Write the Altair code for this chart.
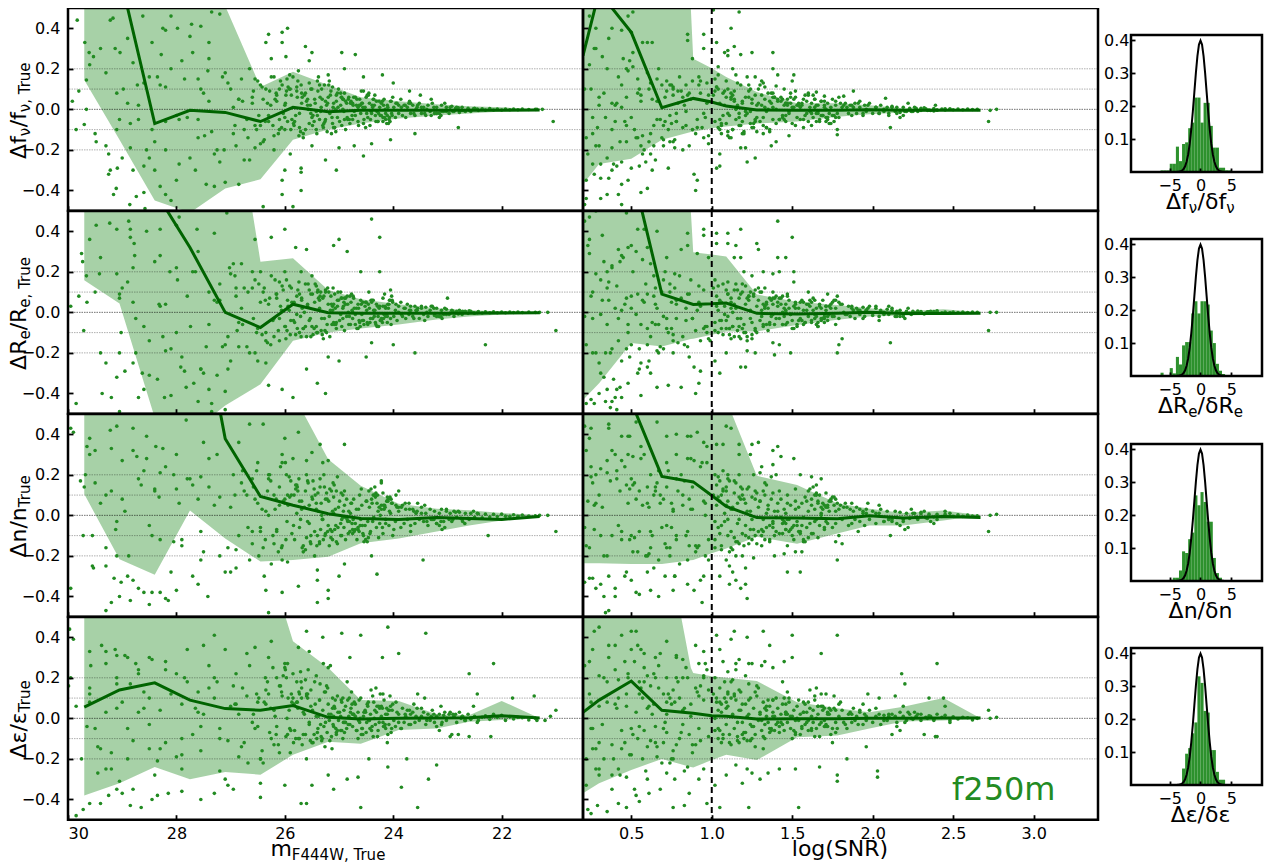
import altair as alt
import pandas as pd

GREEN = "#228B22"
DARK = "#006400"
FONT = "DejaVu Sans"

M_KNOTS = [29.7, 29.05, 28.4, 27.75, 27.1, 26.45, 25.85, 25.2, 24.6, 23.9, 23.2, 22.6, 22.0, 21.3]
S_LINE_K = [.2, .3, .5, .69, .885, 1.0, 1.09, 1.28, 1.53, 1.78, 1.98, 2.19, 2.44, 2.67]
S_BAND_K = [.2, .3, .5, .69, .87, .885, 1.0, 1.09, 1.28, 1.53, 1.78, 1.98, 2.19, 2.44, 2.67]

M_LO = [[.145, -.15, -.45, -.51, -.39, -.345, -.15, -.1, -.07, -.045, -.03, -.02, -.01, 0],
        [.158, .044, -.52, -.6, -.46, -.355, -.14, -.10, -.08, -.06, -.035, -.02, -.01, 0],
        [.105, -.217, -.293, .024, -.114, -.228, -.22, -.204, -.138, -.114, -.08, -.05, -.025, 0],
        [-.38, -.32, -.24, -.30, -.265, -.278, -.18, -.115, -.125, -.058, -.05, -.017, -.008, 0]]
M_HI = [[.9, .9, .9, .8, .51, .11, .185, .12, .06, .04, .025, .015, .01, 0],
        [.9, .9, .9, .9, 1.33, .25, .267, .11, .065, .04, .02, .01, .005, 0],
        [.9, .9, .9, .9, .9, .9, .6, .277, .146, .057, .033, .025, .012, 0],
        [.9, .9, .9, .9, .9, .9, .38, .25, .09, .085, .02, .015, .086, 0]]
M_LINE = [[1.2, .67, -.07, -.005, -.015, -.06, .01, -.012, -.005, -.005, -.005, -.005, -.005, -.003],
          [1.2, 1.0, .6, .32, 0, -.075, .04, -.002, -.005, -.005, -.004, -.004, -.003, -.002],
          [1.4, 1.35, 1.3, 1.3, .378, .093, .05, .008, -.016, -.021, -.011, -.015, -.02, -.006],
          [.055, .14, .175, .09, .048, .04, .063, .005, -.003, 0, .002, .003, .013, .002]]
S_LO = [[-.37, -.27, -.244, -.15, -.112, -.11, -.093, -.085, -.07, -.06, -.036, -.024, -.016, -.008, 0],
        [-.433, -.35, -.151, -.168, -.132, -.13, -.11, -.094, -.094, -.062, -.037, -.02, -.016, -.01, 0],
        [-.236, -.236, -.24, -.24, -.222, -.22, -.187, -.163, -.106, -.14, -.09, -.05, -.05, -.025, 0],
        [-.37, -.32, -.255, -.2, -.24, -.242, -.206, -.18, -.206, -.093, -.085, -.05, -.016, -.01, 0]]
S_HI = [[.9, .9, .9, .9, .5, .25, .203, .16, .086, .03, .03, .02, .005, .002, 0],
        [.9, .9, .9, .9, .5, .296, .285, .275, .088, .052, .036, .02, .006, .015, 0],
        [.9, .9, .9, .9, .9, .9, .9, .57, .195, .15, .06, .033, .011, .024, 0],
        [.9, .9, .9, 1.0, .25, .224, .208, .2, .184, .08, .05, .03, .057, .10, 0]]
S_LINE = [[.265, .58, .38, .008, .054, .036, .016, -.003, -.005, -.004, -.002, -.005, -.004, -.004],
          [.9, .85, .72, .09, .039, .042, .046, -.005, -.008, -.005, 0, -.006, -.006, -.005],
          [.8, .75, .56, .192, .165, .098, .044, -.011, -.013, -.017, -.002, -.013, -.006, -.01],
          [.03, .09, .184, .04, .025, .013, .01, -.003, -.002, -.002, 0, 0, .002, .002]]

CORE_M = [25.88, 25.82, 25.78, 25.73, 25.69, 25.66, 25.62, 25.58, 25.55, 25.52, 25.48, 25.45, 25.42, 25.39, 25.36, 25.33, 25.3, 25.27, 25.25, 25.22, 25.2, 25.17, 25.15, 25.12, 25.1, 25.08, 25.05, 25.03, 25.01, 24.99, 24.97, 24.95, 24.93, 24.91, 24.9, 24.88, 24.86, 24.84, 24.82, 24.8,
          24.78, 24.75, 24.73, 24.7, 24.68, 24.65, 24.62, 24.6, 24.58, 24.55, 24.52, 24.5, 24.47, 24.44, 24.42, 24.39, 24.36, 24.33, 24.31, 24.28, 24.25, 24.22, 24.19, 24.17, 24.14, 24.11, 24.08, 24.05, 24.02, 23.99, 23.96, 23.93, 23.9, 23.86, 23.83, 23.8, 23.77, 23.74, 23.71, 23.68,
          23.64, 23.6, 23.56, 23.52, 23.48, 23.44, 23.4, 23.36, 23.32, 23.28, 23.24, 23.2, 23.15, 23.11, 23.07, 23.02, 22.97, 22.92, 22.88, 22.83, 22.78, 22.73, 22.67, 22.62, 22.57,
          22.5, 22.43, 22.36, 22.3, 22.22, 22.15, 22.08, 22.0, 21.93, 21.85, 21.78, 21.7, 21.62, 21.5, 21.38]
CORE_S = [1.01, 1.02, 1.03, 1.04, 1.05, 1.06, 1.07, 1.08, 1.09, 1.1, 1.11, 1.12, 1.13, 1.14, 1.15, 1.16, 1.17, 1.18, 1.19, 1.2, 1.21, 1.22, 1.23, 1.24, 1.25, 1.26, 1.27, 1.28, 1.29, 1.3, 1.31, 1.32, 1.33, 1.34, 1.35, 1.36, 1.37, 1.38, 1.39, 1.4,
          1.41, 1.42, 1.43, 1.44, 1.45, 1.46, 1.47, 1.48, 1.49, 1.5, 1.51, 1.52, 1.53, 1.54, 1.55, 1.56, 1.57, 1.58, 1.59, 1.6, 1.61, 1.62, 1.63, 1.64, 1.65, 1.66, 1.67, 1.68, 1.69, 1.7, 1.71, 1.72, 1.73, 1.75, 1.76, 1.77, 1.79, 1.81, 1.83, 1.85,
          1.86, 1.87, 1.88, 1.89, 1.9, 1.92, 1.94, 1.95, 1.96, 1.98, 2.0, 2.02, 2.04, 2.05, 2.07, 2.09, 2.1, 2.12, 2.14, 2.15, 2.17, 2.19, 2.21, 2.23, 2.25,
          2.27, 2.3, 2.33, 2.35, 2.38, 2.4, 2.43, 2.45, 2.48, 2.5, 2.53, 2.56, 2.59, 2.62, 2.65]
CORE_Y1 = [.07, -.06, .11, -.09, .03, -.12, .08, .02, -.07, .1, -.03, .05, -.1, .09, -.05, .01, -.08, .12, .04, -.11, .06, -.02, .09, -.07, .03, -.09, .07, -.04, .1, -.06, .02, -.08, .05, -.01, .08, -.1, .03, -.05, .06, -.07,
           .04, -.05, .06, -.03, .02, -.06, .05, -.02, .03, -.07, .01, .06, -.04, .03, -.05, .02, .05, -.03, .04, -.06, .01, .03, -.04, .05, -.02, .02, -.05, .04, -.03, .01, -.04, .03, -.02, .05, -.03, .02, -.04, .01, .03, -.02,
           .02, -.03, .01, .03, -.02, .01, -.03, .02, -.01, .03, -.02, .01, -.02, .02, -.01, .01, -.02, .015, -.01, .01, -.015, .01, -.01, .005, -.01,
           .005, -.005, .003, -.004, .004, -.003, .002, -.003, .002, -.002, .002, -.002, .001, -.001, 0]
CORE_Y2 = [.12, -.05, .08, -.1, .06, -.08, .14, .03, -.04, .09, -.11, .05, -.07, .11, .02, -.09, .07, -.03, .1, -.06, .04, -.12, .08, .01, -.05, .09, -.08, .03, .06, -.04, .1, -.07, .02, .05, -.09, .07, -.02, .04, -.06, .08,
           .05, -.03, .07, -.06, .02, .04, -.05, .06, -.01, -.04, .03, .05, -.06, .02, -.03, .06, .01, -.05, .04, -.02, .03, -.04, .07, -.01, .02, -.05, .04, -.03, .06, -.02, .01, -.04, .03, .05, -.02, .02, -.03, .04, -.01, .03,
           -.02, .03, .01, -.03, .02, -.01, .025, -.02, .01, .03, -.015, .02, -.02, .01, -.01, .015, -.01, .01, -.02, .005, .01, -.01, .005, -.005, .005,
           -.004, .004, -.003, .003, -.002, .003, -.002, .002, -.002, .001, -.001, .002, -.001, .001, 0]
CORE_Y3 = [.1, -.12, .15, -.06, .07, -.15, .12, -.03, .05, -.1, .17, -.08, .03, .11, -.13, .06, -.02, .14, -.09, .08, -.05, .13, -.11, .02, .09, -.07, .12, -.14, .04, .07, -.1, -.02, .1, -.06, .05, -.12, .08, -.03, .02, -.08,
           .06, -.09, .08, -.04, .03, -.07, .1, -.02, .05, -.1, -.05, .07, -.03, .04, -.08, .06, -.01, .09, -.06, .02, -.04, .05, -.09, .03, -.02, .07, -.05, .01, .06, -.07, -.03, .04, .02, -.06, .05, -.04, .03, -.02, .06, -.05,
           .03, -.04, .02, -.02, .04, -.03, .01, -.05, .03, -.02, .02, -.04, .01, .03, -.03, .02, -.02, -.03, .02, -.01, .015, -.02, .01, -.015, .01,
           -.01, .008, -.012, .006, -.008, .005, -.006, .006, -.004, -.005, .003, -.005, .002, -.003, -.002]
CORE_Y4 = [.12, -.06, .08, -.1, .15, .03, -.08, .1, -.03, .06, -.12, .18, .01, -.05, .09, -.09, .04, .13, -.02, -.07, .07, -.11, .02, .1, -.04, .05, -.08, .11, -.01, .03, -.06, .08, -.1, .04, -.02, .06, -.05, .09, .01, -.03,
           .05, -.04, .02, .07, -.06, .03, -.02, .1, -.05, .01, .04, -.07, .06, -.01, .02, -.04, .08, -.03, .03, -.06, .05, .01, -.02, .09, -.05, .02, -.03, .06, .04, -.01, -.04, .03, .02, -.05, .05, -.02, .01, .04, -.03, .02,
           .03, -.02, .05, -.01, .01, .03, -.03, .02, -.01, .04, -.02, .01, .02, -.03, .015, -.01, .02, -.08, .01, -.02, .03, .01, -.01, .02, -.005,
           .01, -.01, .005, .012, -.005, .02, .005, .015, -.01, .008, -.003, .005, .003, -.008, 0]
CORE_Y = [CORE_Y1, CORE_Y2, CORE_Y3, CORE_Y4]

MID_M = [25.97, 25.41, 25.76, 25.13, 25.58, 25.29, 25.91, 25.07, 25.66, 25.35, 25.84, 25.19, 25.52, 25.03, 25.71, 25.44, 25.26, 25.94, 25.11, 25.62, 25.38, 25.8, 25.16, 25.49, 25.05, 25.74, 25.32, 25.87, 25.23, 25.55,
         25.09, 25.68, 25.42, 25.96, 25.14, 25.6, 25.28, 25.78, 25.02, 25.5, 25.36, 25.89, 25.21, 25.64, 25.46, 25.12, 25.73, 25.31, 25.83, 25.18, 25.57, 25.06, 25.69, 25.4, 25.92, 25.25, 25.53, 25.1, 25.77, 25.34,
         24.96, 24.43, 24.77, 24.14, 24.59, 24.27, 24.92, 24.06, 24.65, 24.34, 24.85, 24.18, 24.51, 24.04, 24.72, 24.45, 24.24, 24.95, 24.12, 24.61, 24.37, 24.81, 24.15, 24.48, 24.03, 24.75, 24.32, 24.88, 24.22, 24.56,
         24.09, 24.67, 24.41, 24.97, 24.16, 24.63, 24.29, 24.79, 24.01, 24.49, 24.38, 24.9, 24.2, 24.64, 24.46, 24.11, 24.74, 24.3, 24.83, 24.19, 24.57, 24.07, 24.7, 24.4, 24.93, 24.26, 24.54, 24.1, 24.76, 24.35,
         23.95, 23.2, 23.7, 23.1, 23.55, 23.3, 23.85, 23.05, 23.62, 23.38, 23.78, 23.15, 23.48, 23.02, 23.68, 23.42, 23.25, 23.9, 23.12, 23.58, 22.9, 22.8, 22.72, 22.95, 22.6, 22.85, 22.68, 22.52, 22.75, 22.45]
MID_S = [1.02, 1.2, 1.09, 1.32, 1.14, 1.25, 1.04, 1.35, 1.11, 1.23, 1.06, 1.3, 1.17, 1.37, 1.1, 1.19, 1.27, 1.03, 1.33, 1.13, 1.22, 1.07, 1.31, 1.18, 1.36, 1.1, 1.24, 1.05, 1.28, 1.16,
         1.34, 1.12, 1.21, 1.02, 1.32, 1.14, 1.26, 1.08, 1.38, 1.17, 1.23, 1.05, 1.29, 1.13, 1.19, 1.33, 1.1, 1.25, 1.06, 1.31, 1.15, 1.36, 1.12, 1.21, 1.04, 1.27, 1.16, 1.34, 1.09, 1.24,
         1.38, 1.62, 1.47, 1.72, 1.52, 1.66, 1.41, 1.76, 1.5, 1.63, 1.44, 1.7, 1.57, 1.77, 1.48, 1.6, 1.68, 1.39, 1.73, 1.53, 1.64, 1.45, 1.71, 1.58, 1.78, 1.46, 1.65, 1.43, 1.69, 1.55,
         1.74, 1.51, 1.61, 1.38, 1.72, 1.54, 1.67, 1.46, 1.79, 1.59, 1.64, 1.42, 1.7, 1.52, 1.6, 1.75, 1.47, 1.66, 1.44, 1.71, 1.56, 1.77, 1.49, 1.62, 1.4, 1.68, 1.57, 1.74, 1.46, 1.65,
         1.8, 2.15, 1.92, 2.2, 1.97, 2.1, 1.84, 2.22, 1.94, 2.07, 1.87, 2.17, 2.02, 2.24, 1.91, 2.04, 2.12, 1.82, 2.19, 1.96, 2.28, 2.32, 2.36, 2.26, 2.4, 2.3, 2.38, 2.45, 2.34, 2.48]
MID_Y1 = [.09, -.12, .14, -.04, .05, -.09, .17, .0, -.14, .06, -.07, .12, -.02, .08, -.11, .03, -.06, .11, .01, -.1, .16, -.03, .07, -.08, .04, -.13, .1, -.05, .02, .13,
          -.09, .06, -.01, .15, -.12, .04, -.07, .09, .01, -.04, .12, -.1, .03, .07, -.06, .11, -.02, .05, -.08, .14, .0, -.11, .08, -.03, .1, -.05, .02, -.09, .06, -.01,
          .06, -.08, .03, -.05, .09, -.02, .05, -.06, .01, .07, -.04, .02, -.09, .04, -.01, .08, -.03, .06, -.07, .02, .05, -.05, .0, .07, -.02, .03, -.06, .04, -.03, .01,
          -.07, .05, -.01, .08, -.04, .02, -.06, .03, .06, -.02, .01, -.05, .04, -.08, .07, -.03, .02, -.01, .05, -.06, .03, -.04, .06, -.02, .0, .04, -.05, .01, -.03, .02,
          .03, -.02, .04, -.01, .02, -.03, .01, .03, -.02, .0, .02, -.04, .01, -.01, .03, -.02, .01, .02, -.03, .0, -.01, .008, -.006, .01, -.004, .005, -.008, .003, -.005, .002]
MID_Y2 = [.16, -.1, .11, -.06, .04, -.13, .13, .02, -.08, .08, -.04, .1, -.12, .06, -.02, .14, -.09, .03, .12, -.07, .07, -.11, .01, .09, -.05, .15, -.03, .05, -.1, .11,
          -.06, .02, .13, -.09, .04, -.12, .08, -.01, .1, -.07, .06, -.04, .12, .0, -.08, .03, .09, -.11, .05, -.02, .14, -.06, .07, -.1, .01, .11, -.03, .04, -.08, .1,
          .07, -.05, .09, -.02, .04, -.07, .03, .06, -.08, .01, .08, -.03, .05, -.06, .02, .1, -.04, .07, -.01, -.07, .06, -.02, .03, -.05, .08, .0, -.06, .04, -.03, .05,
          .02, -.08, .06, -.01, .09, -.04, .03, -.06, .05, .01, -.03, .07, -.05, .02, .04, -.02, .08, -.07, .0, .03, -.04, .06, -.01, .05, -.03, .02, -.06, .04, .01, -.02,
          .04, -.02, .01, -.03, .02, .03, -.01, .02, -.03, .0, .02, -.02, .03, -.01, .01, -.04, .02, .0, -.02, .01, .006, -.008, .005, -.004, .008, -.003, .004, -.002, .003, -.002]
MID_Y3 = [.2, -.15, .12, -.08, .17, -.12, .09, .03, -.18, .14, -.05, .07, -.14, .19, -.02, .1, -.1, .05, .16, -.17, .02, .13, -.07, .08, -.13, .18, .0, -.09, .11, -.04,
          .15, -.16, .06, -.03, .12, -.11, .2, .01, -.06, .09, -.14, .17, -.08, .04, .13, -.12, .07, -.02, .1, -.15, .16, -.05, .03, -.1, .19, .08, -.13, .01, .14, -.07,
          .11, -.09, .06, -.04, .13, -.11, .02, .09, -.06, .14, -.02, .05, -.12, .08, -.08, .12, .0, -.1, .07, -.05, .1, -.03, .04, -.13, .06, -.07, .11, -.01, .03, -.09,
          .08, -.12, .13, -.04, .05, -.08, .1, .01, -.1, .07, -.03, .12, -.06, .03, -.11, .09, -.02, .06, -.09, .11, -.05, .02, -.07, .08, -.01, .04, -.13, .07, -.04, .1,
          .05, -.04, .03, -.07, .06, -.02, .04, -.06, .02, -.03, .06, -.05, .01, .03, -.08, .05, -.02, .04, -.03, .01, -.02, .02, -.03, .01, -.02, .015, -.04, .02, -.015, .01]
MID_Y4 = [.2, -.1, .05, -.15, .12, .27, -.05, .09, -.08, .17, -.12, .02, .14, -.06, .23, .07, -.14, .1, -.03, .19, .01, -.1, .26, .04, -.07, .13, -.11, .08, .16, -.02,
          .06, -.13, .21, .0, -.09, .11, -.04, .18, .03, -.12, .09, -.06, .15, .02, -.08, .05, .12, -.1, .07, -.01, .24, -.05, .1, -.07, .04, .13, -.11, .01, .08, -.03,
          .09, -.05, .13, .02, -.08, .06, -.02, .11, -.1, .04, .18, -.04, .03, -.07, .08, -.01, .12, -.06, .05, .0, -.09, .1, -.03, .07, -.05, .02, .15, -.02, .06, -.08,
          .04, -.06, .14, .01, -.04, .09, -.09, .03, .07, -.02, .11, -.07, .05, -.01, .08, -.12, .02, .06, -.03, .12, -.05, .04, .01, -.06, .1, -.02, .03, -.08, .07, .0,
          .08, -.04, .04, -.02, .12, .01, -.05, .03, .07, -.01, .02, -.06, .05, .0, -.03, .1, .02, -.02, .06, .01, .02, -.08, .01, .03, -.09, .02, -.01, .06, .0, -.02]
MID_Y = [MID_Y1, MID_Y2, MID_Y3, MID_Y4]

FAINT_M = [29.6, 29.3, 28.9, 28.6, 28.3, 28.0, 27.7, 27.5, 27.3, 27.1, 26.95, 26.85, 26.75, 26.65, 26.55, 26.5, 26.4, 26.35, 26.3, 26.25, 26.2, 26.15, 26.1, 26.05, 26.0, 29.5, 29.1, 28.8, 28.5, 28.2,
           27.9, 27.6, 27.4, 27.2, 27.0, 26.9, 26.8, 26.7, 26.6, 26.52, 26.45, 26.38, 26.32, 26.28, 26.22, 26.18, 26.12, 26.08, 26.03, 25.98, 29.4, 29.0, 28.7, 28.4, 28.1, 27.8, 27.55, 27.25, 27.05, 26.92,
           26.78, 26.68, 26.58, 26.48, 26.42, 26.36, 26.26, 26.16, 26.06, 25.99]
FAINT_S = [.24, .3, .36, .41, .44, .48, .51, .54, .57, .6, .62, .63, .65, .67, .7, .72, .74, .76, .78, .8, .82, .85, .88, .92, .96, .26, .33, .38, .42, .46,
           .49, .53, .56, .59, .61, .64, .66, .68, .71, .73, .75, .77, .79, .81, .84, .87, .9, .93, .95, .98, .28, .35, .4, .43, .47, .5, .55, .58, .62, .64,
           .67, .69, .72, .74, .76, .78, .83, .86, .91, .97]
FAINT_Y1 = [.22, -.18, .35, -.28, .12, -.35, .28, .08, -.22, .18, -.12, .05, -.25, .2, -.08, .14, -.16, .1, -.06, .16, -.2, .07, -.1, .12, -.04,
            -.12, .08, -.3, .16, -.06, .24, -.14, .04, -.26, .1, -.18, .15, -.05, .06, -.1, .12, -.15, .03, .09, -.08, .05, -.12, .14, -.02, .07,
            .3, -.24, .02, -.16, .2, -.04, .1, -.2, .13, -.08, .04, -.14, .09, -.03, .11, -.06, .02, .08, -.09, .03]
FAINT_Y2 = [.36, -.25, .15, -.38, .28, -.1, .2, -.3, .06, -.16, .24, -.05, .12, -.2, .16, -.08, .1, -.14, .04, .18, -.12, .09, -.03, .13, -.07,
            .1, -.32, .22, -.14, .04, -.22, .3, -.06, .14, -.24, .08, .02, -.17, .2, -.1, .05, .12, -.15, .07, -.04, .16, -.09, .03, .11, -.13,
            -.2, .12, -.42, .25, -.18, .08, -.28, .05, -.12, .18, -.06, .1, -.03, .14, -.11, .06, -.16, .09, .01, -.07]
FAINT_Y3 = [.38, .1, -.3, .22, -.12, .3, .15, -.18, .05, -.28, .2, -.1, .12, -.22, .08, .26, -.16, .02, .18, -.24, .1, -.08, .14, -.15, .06,
            .16, -.2, .32, -.05, .24, -.12, .08, .28, -.2, .04, -.26, .16, .1, -.14, .22, -.06, -.3, .12, .2, -.1, .03, -.18, .24, .07, -.12,
            .06, .27, -.36, .12, -.28, .18, -.08, .3, -.16, .1, .22, -.06, .14, -.2, .03, -.12, .17, .08, -.16, .26]
FAINT_Y4 = [.12, -.25, .3, .05, -.15, .22, -.08, .36, .1, -.3, .16, .02, -.12, .26, -.05, .08, -.22, .14, .3, -.1, .04, .2, -.17, .11, .27,
            -.05, .2, -.35, .1, .28, -.18, .03, .15, -.26, .06, .22, -.14, .32, -.02, .12, -.2, .08, .18, -.07, .25, .01, -.13, .16, .21, -.09,
            -.15, .08, .24, -.28, .12, .34, -.04, .18, -.11, .07, .15, -.22, .02, .1, -.16, .2, .05, -.08, .13, .24]
FAINT_Y = [FAINT_Y1, FAINT_Y2, FAINT_Y3, FAINT_Y4]

P11 = [(29.83,.44),(29.69,.33),(29.61,.28),(29.53,.26),(29.66,.145),(29.8,.09),(29.85,-.10),(29.7,-.075),(29.92,.04),(29.66,0),(29.48,-.16),(29.25,-.22),(29.25,-.32),(29.22,-.30),(29.09,-.29),(29.11,-.39),(29.16,-.42),(28.86,-.47),(28.74,-.43),(28.6,-.41),(28.58,-.49),(29.3,.18),(29.13,.3),(29.04,.28),(29.17,.45),(29.22,.44),(28.98,.1),(28.9,.03),(28.8,.23),(28.72,.12),(28.6,.13),(28.62,.46),(28.45,.33),(28.28,.27),(28.25,.40),(28.2,.39),(28.1,.46),(27.98,.40),(27.75,.36),(27.72,.42),(27.55,.41),(27.4,.33),(27.4,.25),(27.42,.19),(27.35,.48),(27.2,.47),(27.15,.16),(27.6,.15),(27.85,.15),(28.2,.11),(28.35,.16),(28.0,-.03),(28.45,-.1),(28.5,-.24),(28.4,-.3),(28.3,-.38),(28.2,-.42),(28.1,-.45),(27.95,-.27),(27.75,-.24),(27.65,-.3),(27.45,-.37),(27.3,-.38),(27.1,-.36),(27.12,-.2),(27.35,-.11),(27.48,-.13),(27.6,-.05),(27.95,-.05),(28.55,-.2),(28.7,-.05),(28.85,-.07),(29.05,-.05),(29.1,-.1),(28.85,-.19),(28.2,-.2),(26.85,-.37),(26.65,-.25),(26.55,-.19),(26.45,-.08),(26.75,-.1),(26.85,.05),(26.95,.01),(26.55,.15),(26.35,.33),(26.3,.37),(26.05,.38),(26.05,.33),(25.95,.4),(25.98,.26),(26.25,.25),(25.62,.31),(25.5,.28),(25.55,.24),(25.75,.19),(25.85,.16),(26.2,.16),(25.7,.12),(26.1,.1),(25.9,.1),(25.5,.1),(25.4,.14),(25.2,.17),(24.95,.28),(24.7,.27),(24.9,.2),(24.55,.16),(24.55,.09),(24.2,.17),(24.0,.13),(23.7,.09),(23.5,.07),(23.3,.05),(26.45,-.17),(26.2,-.13),(25.9,-.22),(25.7,-.31),(25.7,-.29),(25.7,-.4),(26.05,-.42),(26.0,-.3),(26.05,-.35),(26.4,-.48),(25.85,-.48),(25.5,-.18),(25.25,-.25),(25.05,-.3),(25.0,-.19),(24.72,-.18),(24.55,-.23),(24.4,-.17),(24.05,-.15),(23.6,-.12),(22.8,-.09),(21.05,-.06),(21.35,0),(21.25,0),(26.4,.05),(26.3,-.03),(26.15,.04),(26.1,-.05),(26.0,.02),(26.0,-.1),(26.6,.03),(25.95,-.06)]
P12 = [(.24,.46),(.28,.4),(.27,.3),(.32,.26),(.35,.2),(.38,.4),(.44,.39),(.45,.25),(.48,.46),(.51,.48),(.5,.38),(.51,.21),(.48,.19),(.54,.15),(.56,.07),(.47,.06),(.30,.06),(.25,.1),(.21,.1),(.3,.02),(.38,.03),(.41,.03),(.44,.01),(.26,-.04),(.34,-.04),(.4,-.06),(.29,-.09),(.38,-.1),(.47,-.08),(.52,-.1),(.54,-.14),(.47,-.16),(.38,-.19),(.28,-.18),(.22,-.14),(.23,-.22),(.26,-.27),(.31,-.27),(.39,-.27),(.44,-.26),(.5,-.29),(.55,-.28),(.62,-.22),(.63,-.3),(.27,-.32),(.31,-.34),(.36,-.34),(.22,-.35),(.44,-.37),(.56,-.41),(.6,-.39),(.42,-.42),(.35,-.42),(.31,-.44),(.22,-.44),(.44,-.47),(.21,-.47),(.73,-.29),(.89,-.32),(.91,-.35),(.9,-.4),(1.03,-.29),(1.05,-.28),(1.05,-.22),(1.22,-.26),(1.27,-.24),(1.18,-.19),(1.21,-.19),(1.37,-.18),(1.4,-.16),(.7,-.18),(.77,-.19),(.86,-.18),(.7,-.15),(.76,-.16),(.61,-.16),(.56,-.18),(.57,-.13),(.95,-.14),(.98,-.17),(.98,-.13),(1.12,-.14),(1.19,-.12),(1.28,-.11),(1.48,-.13),(1.78,-.1),(1.78,-.125),(2.11,-.09),(2.72,-.06),(2.73,-.005),(2.77,0),(.88,.25),(.95,.3),(.95,.37),(.85,.37),(.85,.34),(.57,.33),(.6,.33),(.63,.33),(1.03,.33),(1.12,.4),(1.17,.48),(1.01,.49),(1.14,.31),(1.1,.29),(1.08,.28),(1.1,.265),(1.18,.27),(1.25,.28),(1.38,.28),(1.04,.21),(1.13,.2),(1.15,.17),(1.27,.16),(1.38,.2),(1.41,.17),(1.51,.17),(1.5,.14),(1.32,.13),(1.4,.115),(1.45,.1),(1.49,.08),(1.65,.085),(1.7,.065),(1.82,.065),(1.88,.09),(2.08,.055),(2.39,.02),(.69,.12),(.74,.12),(.79,.09),(.84,.12),(.88,.14),(.92,.16),(.97,.13),(.76,.07),(.82,.06),(.93,.08),(.66,.04),(.71,-.06),(.75,-.07),(.82,-.09),(.91,-.05),(.94,-.09),(.66,-.05),(.84,-.01),(.78,-.02)]
P21 = [(29.95,.03),(29.75,.29),(29.73,.25),(29.66,.18),(29.8,.08),(29.65,.05),(29.71,-.09),(29.37,-.4),(29.2,-.42),(29.85,-.45),(29.05,-.49),(29.48,.43),(29.23,.44),(29.1,.41),(28.88,.45),(28.85,.41),(29.4,.27),(29.42,.19),(29.1,.19),(29.05,.09),(29.05,.07),(28.8,.05),(28.85,.37),(28.78,.34),(28.77,.28),(28.55,.4),(28.3,.41),(28.0,.43),(27.95,.47),(27.62,.41),(27.3,.39),(27.07,.49),(28.12,.2),(27.98,.16),(28.0,.22),(27.65,.2),(27.4,.1),(27.2,.06),(27.02,.22),(27.0,.19),(26.8,.24),(26.55,.36),(26.25,.37),(26.0,.41),(25.6,.31),(25.8,.32),(25.1,.33),(25.0,.36),(24.85,.3),(24.4,.46),(24.25,.37),(24.25,.2),(24.6,.2),(24.05,.11),(23.0,.07),(28.32,.04),(28.3,.03),(28.6,-.07),(28.75,-.03),(27.74,-.07),(26.88,-.09),(28.25,-.12),(29.02,-.1),(29.05,-.2),(28.2,-.19),(27.45,-.17),(27.15,-.17),(26.85,-.17),(26.55,-.2),(26.5,-.24),(26.35,-.25),(28.75,-.2),(28.8,-.25),(28.95,-.29),(28.63,-.3),(28.5,-.31),(28.35,-.33),(28.22,-.42),(28.1,-.41),(27.92,-.27),(27.85,-.29),(27.55,-.28),(27.25,-.31),(27.05,-.28),(27.1,-.39),(27.4,-.38),(27.68,-.35),(27.82,-.37),(27.6,-.44),(27.35,-.45),(27.1,-.48),(27.35,-.49),(26.3,-.36),(26.05,-.38),(25.85,-.42),(25.6,-.28),(25.4,-.35),(25.25,-.4),(25.2,-.22),(25.0,-.24),(24.5,-.22),(24.4,-.15),(24.0,-.16),(23.6,-.2),(22.3,-.16),(21.0,-.09),(21.15,0),(21.3,0),(26.9,.12),(26.6,.12),(26.45,.2),(26.1,.15),(26.0,.2),(25.7,.2),(25.5,.18),(25.4,.1),(26.15,.07),(25.95,.06),(26.2,-.03),(26.35,-.1),(26.1,-.14),(25.9,-.11),(25.7,-.12)]
P22 = [(.21,.45),(.24,.47),(.28,.5),(.23,.33),(.24,.29),(.32,.38),(.33,.25),(.35,.2),(.28,.19),(.31,.16),(.38,.23),(.41,.13),(.42,.31),(.45,.27),(.48,.32),(.5,.33),(.47,.49),(.54,.41),(.58,.41),(.57,.26),(.6,.32),(.66,.4),(.72,.27),(.77,.19),(.85,.33),(.85,.39),(.81,.31),(.95,.38),(.95,.41),(.91,.29),(.98,.27),(1.03,.39),(1.1,.39),(1.03,.34),(1.1,.34),(1.15,.33),(1.18,.41),(1.14,.27),(1.18,.27),(1.28,.34),(1.29,.31),(1.41,.45),(1.5,.37),(1.41,.27),(1.46,.27),(1.42,.2),(1.51,.2),(1.51,.15),(1.38,.19),(1.32,.2),(1.25,.18),(1.2,.2),(.25,.08),(.32,.06),(.36,.06),(.4,.02),(.44,.01),(.47,.07),(.5,.02),(.54,.09),(.6,.09),(.65,.04),(.21,-.02),(.26,-.03),(.31,-.01),(.35,-.06),(.42,-.03),(.48,-.06),(.53,-.01),(.6,-.08),(.65,-.06),(.7,-.02),(.75,-.08),(.78,-.03),(.84,.02),(.88,-.03),(.92,.05),(.95,-.08),(.22,-.16),(.26,-.2),(.31,-.3),(.34,-.2),(.37,-.2),(.38,-.18),(.44,-.24),(.5,-.16),(.55,-.18),(.56,-.25),(.6,-.27),(.62,-.3),(.66,-.19),(.7,-.18),(.76,-.2),(.85,-.17),(.86,-.22),(.89,-.27),(.93,-.29),(.92,-.35),(.9,-.4),(.66,-.37),(.73,-.36),(.81,-.37),(.56,-.41),(.48,-.35),(.43,-.37),(.39,-.33),(.35,-.38),(.3,-.4),(.44,-.42),(.38,-.44),(.34,-.44),(.27,-.45),(.22,-.45),(.37,-.47),(.41,-.48),(.25,-.43),(1.02,-.24),(1.05,-.3),(1.09,-.2),(1.18,-.27),(1.21,-.27),(1.22,-.19),(1.27,-.2),(1.39,-.21),(1.38,-.15),(1.42,-.16),(1.49,-.2),(1.78,-.2),(1.79,-.16),(1.81,-.13),(2.11,-.15),(2.72,-.09),(2.73,0),(2.77,0),(1.12,-.13),(1.18,-.13),(1.22,-.14),(.99,-.14),(.93,-.14),(.97,-.1)]
P31 = [(29.95,.43),(29.9,.41),(29.65,.34),(29.68,.2),(29.77,.17),(29.7,.14),(29.6,.3),(29.5,.32),(29.22,.42),(29.1,.44),(28.8,.43),(28.55,.39),(28.55,.28),(28.73,.29),(29.2,.33),(28.38,.34),(28.25,.33),(27.82,.47),(27.5,.36),(28.7,.18),(28.3,.21),(28.05,.2),(28.0,.13),(27.75,.18),(27.95,.06),(29.2,.12),(29.0,.08),(28.95,.02),(28.65,.15),(28.4,.13),(28.32,.09),(29.1,-.03),(29.12,-.07),(27.55,.19),(27.4,.14),(27.2,.09),(26.85,.36),(26.4,.45),(26.0,.38),(25.75,.41),(25.35,.35),(25.2,.27),(24.9,.35),(24.22,.17),(24.22,.16),(23.9,.12),(23.95,.1),(29.95,-.36),(29.72,-.1),(29.55,-.1),(29.3,-.16),(28.88,-.2),(28.45,-.1),(28.05,-.13),(27.9,-.15),(27.55,-.22),(26.9,-.17),(29.55,-.25),(29.53,-.26),(29.3,-.25),(29.15,-.31),(29.02,-.33),(29.05,-.4),(28.8,-.32),(28.6,-.38),(28.45,-.38),(28.3,-.38),(28.2,-.41),(28.15,-.42),(28.0,-.37),(27.7,-.3),(27.6,-.34),(27.42,-.4),(27.0,-.28),(26.35,-.37),(26.05,-.38),(25.75,-.35),(25.4,-.32),(25.2,-.37),(25.0,-.3),(24.9,-.24),(24.4,-.2),(23.45,-.22),(22.25,-.1),(21.0,-.08),(29.3,-.47),(29.2,-.43),(28.85,-.42),(28.5,-.44),(26.3,-.48),(25.4,-.43),(25.2,-.41),(24.3,-.29),(26.65,.45),(26.05,.3),(26.05,.26),(25.85,.28),(25.6,.27),(25.5,.31),(25.3,.26),(25.6,.2),(25.35,.18),(25.8,.15),(26.3,.2),(26.6,.18),(26.45,-.08),(26.2,-.14),(26.05,-.22),(25.95,-.23),(25.45,-.2),(25.4,-.27),(21.15,0),(21.3,0),(26.5,.06),(26.3,.0),(26.1,.05),(26.0,.08),(25.95,.1),(26.15,-.07),(26.6,-.08)]
P32 = [(.21,.44),(.25,.43),(.36,.43),(.36,.45),(.44,.39),(.48,.39),(.49,.39),(.22,.32),(.4,.3),(.44,.27),(.51,.29),(.53,.46),(.66,.46),(.56,.34),(.25,.24),(.31,.23),(.35,.21),(.28,.2),(.25,.19),(.37,.17),(.41,.18),(.47,.15),(.49,.13),(.52,.16),(.55,.12),(.6,.14),(.65,.14),(.72,.39),(.78,.4),(.85,.39),(.87,.39),(.91,.41),(.95,.36),(.97,.34),(.78,.3),(.85,.28),(.87,.28),(.89,.27),(.94,.26),(1.03,.35),(1.07,.35),(1.09,.44),(1.12,.43),(1.17,.35),(1.17,.3),(1.25,.35),(1.29,.36),(1.38,.32),(1.41,.34),(1.43,.29),(1.51,.28),(1.38,.25),(1.4,.2),(1.55,.2),(1.62,.19),(1.65,.15),(1.68,.18),(1.31,.24),(1.24,.3),(1.3,.21),(1.07,.22),(1.1,.2),(1.17,.2),(.23,.07),(.27,.05),(.32,.04),(.48,.06),(.6,.06),(.68,.06),(.75,.06),(.82,.05),(.88,.03),(.96,.0),(.21,-.06),(.27,-.07),(.31,-.1),(.38,-.1),(.44,-.08),(.5,-.1),(.52,-.11),(.62,-.08),(.72,-.05),(.78,-.1),(.86,-.15),(.9,-.15),(.22,-.15),(.24,-.16),(.35,-.2),(.51,-.18),(.6,-.2),(.61,-.19),(.72,-.16),(.85,-.22),(.96,-.2),(.98,-.22),(1.02,-.16),(1.06,-.17),(1.09,-.22),(1.11,-.25),(1.13,-.28),(1.15,-.2),(1.19,-.2),(1.21,-.26),(1.26,-.21),(1.39,-.2),(1.45,-.19),(1.47,-.28),(1.55,-.28),(1.78,-.22),(1.47,-.15),(1.52,-.18),(1.56,-.18),(1.77,-.13),(1.81,-.14),(2.11,-.1),(2.72,-.08),(2.73,0),(2.77,.005),(.21,-.33),(.24,-.31),(.26,-.31),(.28,-.36),(.31,-.34),(.33,-.4),(.36,-.47),(.34,-.48),(.4,-.4),(.46,-.3),(.5,-.32),(.53,-.38),(.55,-.39),(.62,-.37),(.67,-.4),(.76,-.37),(.71,-.3),(.77,-.3),(.85,-.34),(.89,-.37),(.93,-.32),(.95,-.3),(.94,-.43),(1.11,-.34),(1.15,-.32),(1.18,-.36),(1.21,-.34),(1.22,-.41),(1.05,-.3)]
P41 = [(29.97,.44),(29.9,.39),(29.95,.2),(29.99,.16),(29.85,.06),(29.6,.33),(29.58,.26),(29.38,.36),(29.3,.33),(29.3,.27),(29.13,.34),(29.1,.31),(28.95,.31),(28.75,.27),(28.7,.22),(28.5,.3),(28.45,.29),(28.2,.24),(27.85,.2),(27.8,.18),(27.6,.13),(27.4,.26),(27.3,.2),(27.3,.41),(27.1,.34),(26.55,.35),(26.25,.38),(25.95,.27),(25.75,.35),(25.6,.43),(25.55,.33),(25.3,.4),(25.2,.25),(24.95,.42),(24.8,.3),(24.6,.41),(24.2,.3),(23.9,.32),(23.4,.42),(24.1,.45),(22.6,.22),(22.15,.27),(22.45,.12),(21.8,.1),(21.4,.11),(21.0,.04),(29.6,.15),(29.1,.17),(28.85,.17),(28.6,.13),(29.6,.08),(29.3,.03),(29.1,.05),(28.9,-.05),(28.7,.03),(28.5,-.03),(28.3,.04),(27.9,.07),(27.65,.05),(27.5,.02),(27.2,-.05),(26.9,.07),(26.7,.11),(26.5,-.04),(29.65,-.04),(29.45,-.14),(29.2,-.17),(28.8,-.11),(28.5,-.15),(28.2,-.12),(27.9,-.1),(27.55,-.16),(27.2,-.1),(26.85,-.19),(26.45,-.2),(26.2,-.13),(25.95,-.08),(29.75,-.2),(29.45,-.27),(29.2,-.25),(29.05,-.31),(28.9,-.2),(28.35,-.21),(28.0,-.19),(27.9,-.25),(29.72,-.45),(29.85,-.48),(29.6,-.42),(29.4,-.42),(29.25,-.38),(29.1,-.35),(29.0,-.37),(28.85,-.43),(28.65,-.44),(28.45,-.4),(28.35,-.38),(28.15,-.37),(27.9,-.36),(27.55,-.4),(27.3,-.37),(27.05,-.33),(26.95,-.35),(26.45,-.32),(26.45,-.39),(26.0,-.33),(25.6,-.42),(25.7,-.42),(25.5,-.33),(25.2,-.28),(25.1,-.35),(24.85,-.3),(24.65,-.29),(24.6,-.44),(24.45,-.2),(24.1,-.24),(23.85,-.34),(23.75,-.2),(23.55,-.44),(23.35,-.3),(23.2,-.23),(22.95,-.09),(22.2,-.09),(26.3,.12),(26.1,.16),(26.0,.25),(25.85,.22),(25.7,.18),(25.6,.12),(25.85,.1),(26.15,-.04),(26.35,.07),(25.75,-.1),(25.9,-.17),(25.6,-.2),(21.1,.01),(21.2,-.01),(21.35,-.01)]
P42 = [(.21,.26),(.24,.28),(.27,.43),(.3,.45),(.26,.34),(.36,.36),(.4,.36),(.44,.41),(.5,.43),(.53,.43),(.56,.34),(.58,.32),(.52,.28),(.58,.25),(.6,.21),(.65,.3),(.72,.38),(.78,.31),(.82,.29),(.9,.36),(.95,.33),(.92,.27),(1.03,.41),(1.05,.34),(1.12,.39),(1.14,.43),(1.22,.4),(1.07,.28),(1.15,.27),(1.17,.29),(1.23,.27),(1.32,.43),(1.36,.36),(1.33,.28),(1.5,.41),(1.5,.3),(1.45,.28),(1.78,.41),(1.68,.32),(1.38,.25),(2.4,.27),(2.18,.22),(2.2,.17),(2.14,.11),(2.35,.1),(2.44,.1),(2.72,.04),(2.73,0),(2.77,.005),(.3,.21),(.35,.18),(.42,.19),(.48,.2),(.55,.18),(.65,.2),(.72,.2),(.82,.2),(.9,.15),(.95,.2),(.98,.14),(.25,.08),(.3,.06),(.4,.07),(.47,.06),(.55,.12),(.6,.05),(.7,.12),(.75,.07),(.8,.1),(.87,.07),(.95,.09),(.25,-.05),(.32,-.03),(.44,-.06),(.5,-.05),(.58,-.06),(.65,-.04),(.72,-.07),(.82,-.03),(.92,-.05),(.26,-.15),(.3,-.12),(.38,-.13),(.46,-.12),(.54,-.1),(.6,-.14),(.7,-.12),(.78,-.13),(.88,-.13),(.93,-.11),(.22,-.2),(.28,-.25),(.33,-.2),(.39,-.2),(.42,-.25),(.5,-.18),(.57,-.2),(.66,-.19),(.76,-.2),(.85,-.24),(.95,-.25),(.22,-.33),(.3,-.28),(.38,-.28),(.47,-.29),(.52,-.35),(.53,-.38),(.61,-.37),(.68,-.35),(.72,-.27),(.77,-.3),(.83,-.26),(.92,-.3),(.86,-.37),(.97,-.42),(.29,-.43),(.25,-.47),(.23,-.45),(.35,-.46),(.42,-.42),(.47,-.44),(.55,-.41),(.76,-.44),(.83,-.43),(1.02,-.33),(1.09,-.28),(1.15,-.23),(1.19,-.32),(1.22,-.25),(1.25,-.27),(1.3,-.3),(1.35,-.27),(1.42,-.25),(1.52,-.25),(1.54,-.44),(1.67,-.24),(1.78,-.28),(1.78,-.31),(1.84,-.2),(2.03,-.26),(2.03,-.29),(1.96,-.14),(2.39,-.09),(1.23,-.44),(1.05,-.44)]
PANELS = [[P11, P12], [P21, P22], [P31, P32], [P41, P42]]

H_BINS = [-6.5, -6, -5.5, -5, -4.5, -4, -3.5, -3, -2.5, -2, -1.5, -1, -.5, 0, .5, 1, 1.5, 2, 2.5, 3, 3.5, 4, 4.5]
H1 = [.005, .005, .005, .025, .025, .077, .033, .085, .09, .133, .15, .226, .226, .15, .21, .21, .14, .074, .074, .013, .013, .005, .005]
H2 = [.01, 0, 0, .024, .008, .058, .035, .093, .103, .103, .19, .227, .19, .227, .227, .217, .138, .10, .037, .016, .006, 0, 0]
H3 = [0, 0, 0, .004, .01, .01, .032, .09, .085, .127, .147, .26, .23, .27, .24, .18, .18, .07, .024, .01, 0, 0, 0]
H4 = [0, 0, 0, 0, 0, 0, 0, .05, .095, .112, .157, .19, .33, .31, .225, .22, .106, .106, .04, .016, .016, 0, 0]
HISTS = [H1, H2, H3, H4]
CURVE_X = [-4, -3.75, -3.5, -3.25, -3, -2.75, -2.5, -2.25, -2, -1.75, -1.5, -1.25, -1, -.75, -.5, -.25, 0, .25, .5, .75, 1, 1.25, 1.5, 1.75, 2, 2.25, 2.5, 2.75, 3, 3.25, 3.5, 3.75, 4]
CURVE_Y = [.0001, .0004, .0009, .002, .0044, .009, .0175, .032, .054, .086, .13, .183, .242, .301, .352, .387, .399, .387, .352, .301, .242, .183, .13, .086, .054, .032, .0175, .009, .0044, .002, .0009, .0004, .0001]

YTICKS = [-.4, -.2, 0, .2, .4]
REFS = [-.2, -.1, 0, 0, .1, .2]
M_TICKS = [30, 28, 26, 24, 22]
S_TICKS = [.5, 1, 1.5, 2, 2.5, 3]
H_XTICKS = [-5, 0, 5]
H_YTICKS = [.1, .2, .3, .4]

Y_TITLES = [[("Δf", 0), ("ν", 1), ("/f", 0), ("ν, True", 1)],
            [("ΔR", 0), ("e", 1), ("/R", 0), ("e, True", 1)],
            [("Δn/n", 0), ("True", 1)],
            [("Δε/ε", 0), ("True", 1)]]
H_TITLES = [[("Δf", 0), ("ν", 1), ("/δf", 0), ("ν", 1)],
            [("ΔR", 0), ("e", 1), ("/δR", 0), ("e", 1)],
            [("Δn/δn", 0)],
            [("Δε/δε", 0)]]
X_TITLES = [[("m", 0), ("F444W, True", 1)], [("log(SNR)", 0)]]

ADV = {"Δ": .684, "f": .352, "ν": .592, "/": .337, ",": .318, " ": .318, "T": .611, "r": .411, "u": .634, "e": .615,
       "R": .695, "n": .634, "ε": .541, "δ": .612, "m": .974, "F": .575, "4": .636, "W": .989, "l": .278, "o": .612,
       "g": .635, "(": .39, ")": .39, "S": .635, "N": .748}
BIG, SMALL = 22, 15
PW, PH = 515, 202.7
GAP, HW, HH = 33, 131, 137
HTOPS = [27, 28, 30, 31]
H_XDOM = [-11.3, 10]
ONE = pd.DataFrame({"a": [0]})


def rich(parts, center, base, rotated=False):
    sizes = [SMALL if s else BIG for _, s in parts]
    widths = [sum(ADV[c] for c in t) * z for (t, _), z in zip(parts, sizes)]
    pos = -sum(widths) / 2
    out = []
    for (t, sub), z, w in zip(parts, sizes, widths):
        shift = 4 if sub else 0
        if rotated:
            mk = alt.Chart(ONE).mark_text(text=t, fontSize=z, font=FONT, color="black", align="left",
                                          baseline="alphabetic", angle=270)
            out.append(mk.encode(x=alt.value(base + shift), y=alt.value(center - pos)))
        else:
            mk = alt.Chart(ONE).mark_text(text=t, fontSize=z, font=FONT, color="black", align="left",
                                          baseline="alphabetic")
            out.append(mk.encode(x=alt.value(center + pos), y=alt.value(base + shift)))
        pos += w
    return out


def frame(x0, x1, y0, y1):
    return alt.Chart(ONE).mark_rect(filled=False, stroke="black", strokeWidth=2.5).encode(
        x=alt.value(x0), x2=alt.value(x1), y=alt.value(y0), y2=alt.value(y1))


def axis(vals, fmt, labels, pad, size=5, shift=0):
    return alt.Axis(values=vals, format=fmt, labels=labels, title=None, domain=False, grid=False, tickSize=size,
                    tickWidth=1.8, tickColor="black", offset=-size - shift, labelPadding=pad, labelFontSize=16,
                    labelFont=FONT, labelColor="black", zindex=1)


def panel(row, col):
    is_m = col == 0
    xdom = [30, 20.5] if is_m else [.2, 3.4]
    xs = alt.Scale(domain=xdom, nice=False, zero=False)
    ys = alt.Scale(domain=[-.5, .5], nice=False, zero=False)
    xax = axis(M_TICKS if is_m else S_TICKS, "d" if is_m else ".1f", row == 3, 6)
    yax = axis(YTICKS, ".1f", is_m, 8)
    bk = M_KNOTS if is_m else S_BAND_K
    lk = M_KNOTS if is_m else S_LINE_K
    band = pd.DataFrame({"x": bk, "lo": (M_LO if is_m else S_LO)[row], "hi": (M_HI if is_m else S_HI)[row]})
    line = pd.DataFrame({"x": lk, "y": (M_LINE if is_m else S_LINE)[row]})
    pts = PANELS[row][col]
    xvals = [p[0] for p in pts] + (CORE_M + MID_M + FAINT_M if is_m else CORE_S + MID_S + FAINT_S)
    yvals = [p[1] for p in pts] + CORE_Y[row] + MID_Y[row] + FAINT_Y[row]
    scat = pd.DataFrame({"x": xvals, "y": yvals})
    refs = pd.DataFrame({"y": REFS})
    layers = [
        alt.Chart(band).mark_area(color=GREEN, opacity=.4, clip=True).encode(
            x=alt.X("x:Q", scale=xs, axis=xax), y=alt.Y("lo:Q", scale=ys, axis=yax), y2="hi:Q"),
        alt.Chart(refs).mark_rule(color="black", strokeWidth=.7, opacity=.45, strokeDash=[1.5, 1]).encode(
            y=alt.Y("y:Q", scale=ys)),
        alt.Chart(scat).mark_circle(color=GREEN, size=13, opacity=1, clip=True).encode(
            x=alt.X("x:Q", scale=xs), y=alt.Y("y:Q", scale=ys)),
        alt.Chart(line).mark_line(color=DARK, strokeWidth=3, clip=True).encode(
            x=alt.X("x:Q", scale=xs), y=alt.Y("y:Q", scale=ys)),
    ]
    if not is_m:
        layers.append(alt.Chart(pd.DataFrame({"x": [1.0]})).mark_rule(color="black", strokeWidth=2, strokeDash=[6, 4]).encode(
            x=alt.X("x:Q", scale=xs)))
    layers.append(frame(0, PW, 0, PH))
    if is_m:
        layers += rich(Y_TITLES[row], PH / 2, -42, rotated=True)
    if row == 3:
        layers += rich(X_TITLES[col], 261 if is_m else 257, PH + 36)
    if row == 3 and col == 1:
        layers.append(alt.Chart(ONE).mark_text(text="f250m", fontSize=32, font=FONT, color=GREEN, align="left",
                                               baseline="alphabetic").encode(x=alt.value(369), y=alt.value(183)))
    return alt.layer(*layers).properties(width=PW, height=PH)


def hist(row):
    top = HTOPS[row]
    bottom = top + HH
    left, right = GAP, GAP + HW
    xs = alt.Scale(domain=H_XDOM, nice=False, zero=False, range=[left, right])
    ys = alt.Scale(domain=[0, .416], nice=False, zero=False, range=[bottom, top])
    bars = pd.DataFrame({"x": H_BINS, "x2": [b + .5 for b in H_BINS], "y": HISTS[row], "base": [0] * len(H_BINS)})
    curve = pd.DataFrame({"x": CURVE_X, "y": CURVE_Y})
    layers = [
        alt.Chart(bars).mark_rect(color=GREEN, opacity=.95).encode(
            x=alt.X("x:Q", scale=xs, axis=axis(H_XTICKS, "d", True, 5, 4, PH - bottom)), x2="x2:Q",
            y=alt.Y("y:Q", scale=ys, axis=axis(H_YTICKS, ".1f", True, 2, 4, left)), y2="base:Q"),
        alt.Chart(curve).mark_line(color="black", strokeWidth=2).encode(
            x=alt.X("x:Q", scale=xs), y=alt.Y("y:Q", scale=ys)),
        frame(left, right, top, bottom),
    ] + rich(H_TITLES[row], left + 69.5, bottom + 37)
    return alt.layer(*layers).properties(width=GAP + HW, height=PH)


cells = []
for r in range(4):
    cells += [panel(r, 0), panel(r, 1), hist(r)]
chart = alt.concat(*cells, columns=3, spacing=0, bounds="flush").properties(
    padding={"left": 0, "top": -2, "right": 0, "bottom": 0}
).configure(font=FONT).configure_view(stroke="transparent", strokeWidth=0)
chart.save("out.html", embed_options={"renderer": "svg", "actions": False})
